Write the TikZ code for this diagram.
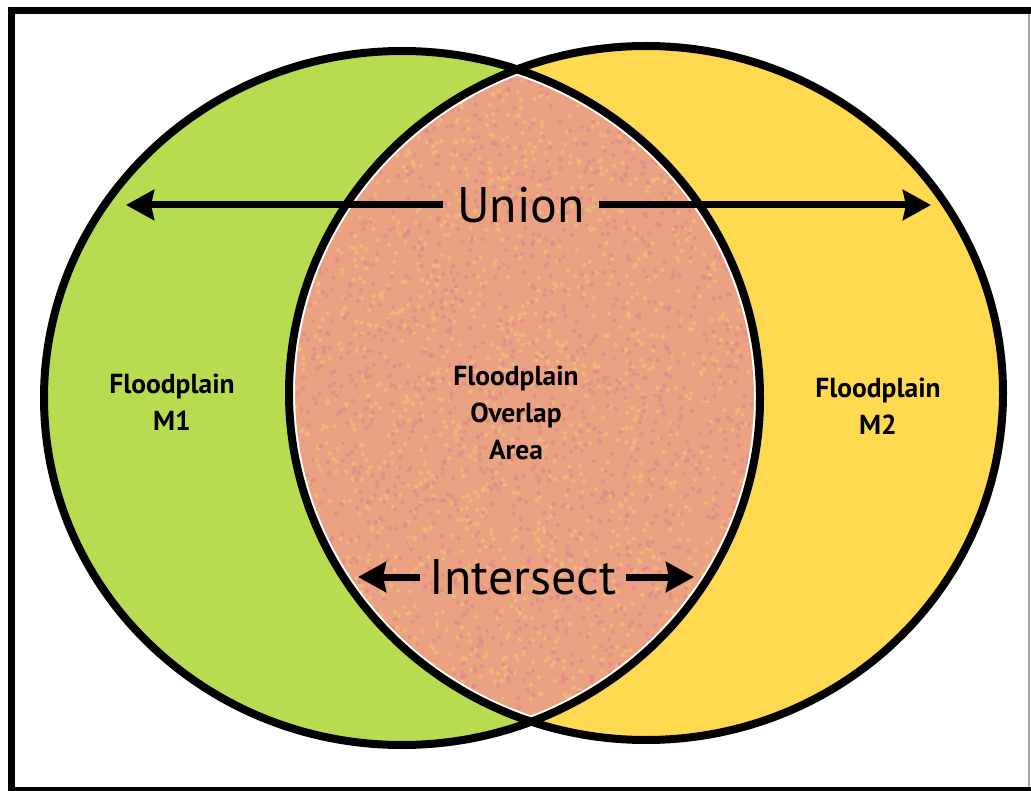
\documentclass[tikz,border=0pt]{standalone}
\usepackage{fontspec}
\setmainfont{PT Sans}
\usetikzlibrary{arrows.meta}
\definecolor{mgreen}{RGB}{184,220,80}
\definecolor{myellow}{RGB}{255,218,80}
\definecolor{mlens}{RGB}{234,162,130}
\definecolor{speckA}{RGB}{242,192,118}
\definecolor{speckB}{RGB}{226,136,140}
\tikzset{
  big/.style={font=\fontsize{50}{50}\selectfont, inner xsep=14pt, inner ysep=0pt},
  lbl/.style={font=\bfseries\fontsize{27.5}{37}\selectfont, align=center, inner sep=0pt},
  arr/.style={line width=7pt, -{Stealth[inset=3pt,length=28pt,width=30pt]}},
  outline/.style={line width=8pt, draw=black},
}
\begin{document}
\begin{tikzpicture}[x=1pt,y=-1pt]
\useasboundingbox (0,0) rectangle (1031,791);
\fill[white] (0,0) rectangle (1031,791);
% frame
\draw[line width=7pt, line cap=rect] (1031,11) -- (11,11) -- (11,790) -- (1031,790);
\draw[line width=1.5pt, gray!70] (1029,14) -- (1029,787);
% circles
\fill[mgreen] (402,398) ellipse [x radius=358, y radius=347];
\fill[myellow] (646,393) ellipse [x radius=357, y radius=347];
\begin{scope}
  \clip (402,398) ellipse [x radius=358, y radius=347];
  \clip (646,393) ellipse [x radius=357, y radius=347];
  \fill[mlens] (0,0) rectangle (1031,791);
  \pgfmathsetseed{7}
  \foreach \i in {1,...,1800} {
    \pgfmathsetmacro\px{290+475*rnd}
    \pgfmathsetmacro\py{70+650*rnd}
    \fill[speckA, opacity=0.7] (\px,\py) circle (2.2);
  }
  \foreach \i in {1,...,1800} {
    \pgfmathsetmacro\px{290+475*rnd}
    \pgfmathsetmacro\py{70+650*rnd}
    \fill[speckB, opacity=0.7] (\px,\py) circle (2.2);
  }
  \draw[white, line width=12pt] (402,398) ellipse [x radius=358, y radius=347];
  \draw[white, line width=12pt] (646,393) ellipse [x radius=357, y radius=347];
\end{scope}
\draw[outline] (402,398) ellipse [x radius=358, y radius=347];
\draw[outline] (646,393) ellipse [x radius=357, y radius=347];
% labels
\node[big] (union) at (521,205) {Union};
\node[big] (inter) at (523,577) {Intersect};
\coordinate (ul) at (126,205);
\coordinate (ur) at (931,205);
\coordinate (il) at (358,577);
\coordinate (ir) at (694,577);
\draw[arr] (union.west) -- (ul);
\draw[arr] (union.east) -- (ur);
\draw[arr, shorten <=-4pt] (inter.west) -- (il);
\draw[arr, shorten <=-4pt] (inter.east) -- (ir);
\node[lbl] (m1) at (172,402) {Floodplain\\M1};
\node[lbl] (ov) at (516,413) {Floodplain\\Overlap\\Area};
\node[lbl] (m2) at (878,406) {Floodplain\\M2};
\end{tikzpicture}
\end{document}
